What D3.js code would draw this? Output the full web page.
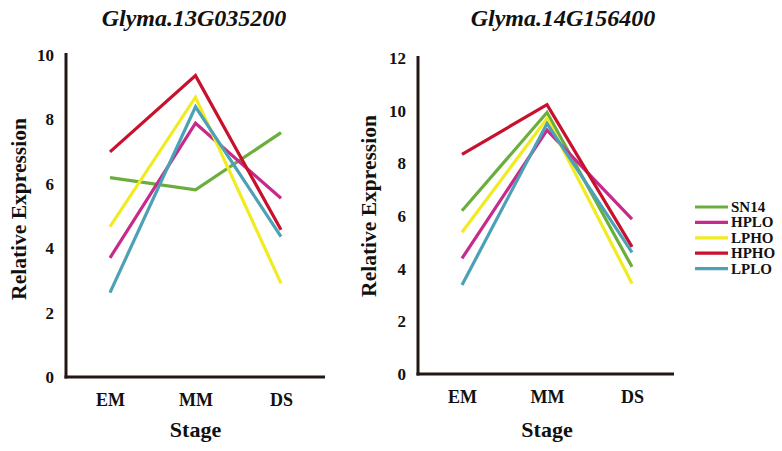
<!DOCTYPE html>
<html><head><meta charset="utf-8">
<script src="https://cdn.jsdelivr.net/npm/d3@7"></script>
<style>body{margin:0;background:#fff}svg{display:block}</style>
</head><body><svg id="c" width="782" height="451"></svg>
<script>
const stages = ["EM","MM","DS"];
const seriesNames = ["SN14","HPLO","LPHO","HPHO","LPLO"];
const seriesColors = ["#6cae3c","#c82a8c","#f1eb22","#c8112c","#4ca1b6"];
const gene1 = "Glyma.13G035200";
const gene2 = "Glyma.14G156400";
const g1SN14 = [6.19,5.81,7.59];
const g1HPLO = [3.70,7.88,5.55];
const g1LPHO = [4.67,8.69,2.91];
const g1HPHO = [6.99,9.36,4.57];
const g1LPLO = [2.62,8.39,4.36];
const g2SN14 = [6.20,9.93,4.07];
const g2HPLO = [4.39,9.26,5.88];
const g2LPHO = [5.38,9.70,3.44];
const g2HPHO = [8.34,10.23,4.83];
const g2LPLO = [3.38,9.51,4.62];
const ticks1 = [0,2,4,6,8,10];
const ticks2 = [0,2,4,6,8,10,12];

const FONT = "'Liberation Serif', 'Times New Roman', Tinos, 'DejaVu Serif', serif";
const svg = d3.select("#c");
const axisColor = "#231815";

function txt(sel, size, italic){
  sel.attr("font-family", FONT).attr("font-weight","bold").attr("font-size", size)
     .attr("fill","#111");
  if (italic) sel.attr("font-style","italic");
  return sel;
}

function panel(cfg){
  const x = d3.scalePoint().domain(stages).range([cfg.x0, cfg.x1]);
  const y = d3.scaleLinear().domain([0, cfg.ymax]).range([cfg.yb, cfg.yt]);
  const g = svg.append("g");
  g.append("line").attr("x1",cfg.ax).attr("x2",cfg.ax).attr("y1",cfg.yt-2).attr("y2",cfg.yb+1.5)
    .attr("stroke",axisColor).attr("stroke-width",3);
  g.append("line").attr("x1",cfg.ax-1.5).attr("x2",cfg.axEnd).attr("y1",cfg.yb).attr("y2",cfg.yb)
    .attr("stroke",axisColor).attr("stroke-width",3);
  const ya = g.append("g").attr("transform",`translate(${cfg.ax},0)`)
    .call(d3.axisLeft(y).tickValues(cfg.ticks).tickSize(0).tickPadding(12).tickFormat(d3.format("d")));
  ya.select(".domain").remove();
  ya.attr("font-family", null).attr("font-size", null);
  txt(ya.selectAll("text"), 17);
  const xa = g.append("g").attr("transform",`translate(0,${cfg.yb})`)
    .call(d3.axisBottom(x).tickSize(0).tickPadding(16));
  xa.select(".domain").remove();
  xa.attr("font-family", null).attr("font-size", null);
  txt(xa.selectAll("text"), 18);
  const line = d3.line().x((d,i)=>x(stages[i])).y(d=>y(d));
  cfg.data.forEach((vals,k)=>{
    g.append("path").datum(vals).attr("d",line).attr("fill","none")
      .attr("stroke",seriesColors[k]).attr("stroke-width",3.2).attr("stroke-linejoin","miter");
  });
  txt(g.append("text").attr("x",cfg.tx).attr("y",26).attr("text-anchor","middle"), 24, true).text(cfg.title);
  txt(g.append("text").attr("x",(cfg.x0+cfg.x1)/2).attr("y",437).attr("text-anchor","middle"), 22).text("Stage");
  txt(g.append("text").attr("transform",`translate(${cfg.lx},${cfg.ly}) rotate(-90)`)
    .attr("text-anchor","middle"), 21.5).text("Relative Expression");
}

panel({x0:110,x1:281,yb:377,yt:55,ymax:10,ax:66,axEnd:325,ticks:ticks1,tx:194,lx:26,ly:209,title:gene1,
  data:[g1SN14,g1HPLO,g1LPHO,g1HPHO,g1LPLO]});
panel({x0:462,x1:632,yb:374,yt:58,ymax:12,ax:418,axEnd:674,ticks:ticks2,tx:563,lx:376,ly:206,title:gene2,
  data:[g2SN14,g2HPLO,g2LPHO,g2HPHO,g2LPLO]});

const leg = svg.append("g");
seriesNames.forEach((n,i)=>{
  const yy = 207 + i*15.4;
  leg.append("line").attr("x1",695).attr("x2",728).attr("y1",yy).attr("y2",yy)
    .attr("stroke",seriesColors[i]).attr("stroke-width",3.2);
  txt(leg.append("text").attr("x",731).attr("y",yy+5), 15).text(n);
});
</script></body></html>
